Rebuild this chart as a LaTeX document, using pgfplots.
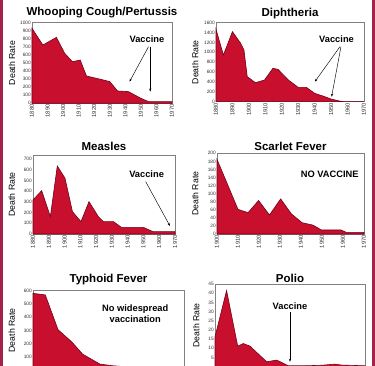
\documentclass[border=0pt]{standalone}
\usepackage{pgfplots}
\pgfplotsset{compat=1.18}
\usepackage{fontspec}
\setmainfont{Liberation Sans}
\usetikzlibrary{arrows.meta}
\definecolor{fillred}{RGB}{200,16,46}
\definecolor{edgered}{RGB}{115,0,25}
\definecolor{framered}{RGB}{165,35,75}
\tikzset{
  ann/.style={font=\bfseries\fontsize{9.3}{11}\selectfont},
  arr/.style={-{Stealth[length=3pt,width=2.2pt]}, line width=0.45pt, black},
  area/.style={fill=fillred, draw=edgered, line width=0.6pt},
}
\pgfplotsset{
  panel/.style={
    scale only axis, anchor=north west,
    axis line style={black!50, line width=0.5pt},
    tick style={draw=none},
    yticklabel style={font=\fontsize{4.8}{5}\selectfont, inner sep=1pt, text=black!80},
    xticklabel style={font=\fontsize{5.8}{6}\selectfont, rotate=90, anchor=east, inner sep=1pt, text=black!80},
    /pgf/number format/assume math mode=true,
    /pgf/number format/1000 sep={},
    ylabel={Death Rate},
    ylabel style={font=\fontsize{8.7}{9}\selectfont, anchor=center},
    title style={font=\bfseries\fontsize{11.5}{12}\selectfont, anchor=base},
    ymin=0, clip=false,
  },
}
\begin{document}
\begin{tikzpicture}
\fill[white] (0,0) rectangle (375pt,-366pt);
\useasboundingbox (0,0) rectangle (375pt,-366pt);
\clip (0,0) rectangle (375pt,-366pt);

% Whooping Cough
\begin{axis}[panel, at={(32pt,-22.7pt)}, width=140pt, height=80.6pt,
  xmin=1880, xmax=1970, ymax=1000, xtick={1880,1890,...,1970}, ytick={0,100,...,1000},
  title={Whooping Cough/Pertussis}, title style={at={(axis description cs:0.5,1)}, yshift=0.7pt},
  ylabel style={at={(axis description cs:-0.143,0.5)}}]
\addplot[area] coordinates {(1880,930) (1887,723) (1895.7,818) (1901,620) (1906,516) (1911,537) (1915,339) (1924,298) (1930,269) (1935,153) (1942,145) (1950,62) (1955,20) (1970,20)} \closedcycle;
\node[ann] at (axis cs:1953.9,793) {Vaccine};
\draw[arr] (axis cs:1954.9,702) -- (axis cs:1942.7,269);
\draw[arr] (axis cs:1956,702) -- (axis cs:1956,145);
\end{axis}

% Diphtheria
\begin{axis}[panel, at={(216pt,-22.7pt)}, width=148pt, height=79pt,
  xmin=1880, xmax=1970, ymax=1600, xtick={1880,1890,...,1970}, ytick={0,200,...,1600},
  title={Diphtheria}, title style={at={(axis description cs:0.5,1)}, yshift=0pt},
  ylabel style={at={(axis description cs:-0.14,0.5)}}]
\addplot[area] coordinates {(1880,1466) (1884.5,946) (1890,1419) (1895,1182) (1897,1047) (1899,507) (1904,385) (1909.5,439) (1914.6,676) (1917.7,655) (1924,439) (1930,290) (1935,290) (1940,169) (1945,115) (1950,54) (1955,14) (1958,0) (1970,0)} \closedcycle;
\node[ann] at (axis cs:1953.3,1264) {Vaccine};
\draw[arr] (axis cs:1955.4,1115) -- (axis cs:1940.1,405);
\draw[arr] (axis cs:1956,1115) -- (axis cs:1950.3,101);
\end{axis}

% Measles
\begin{axis}[panel, at={(33pt,-155pt)}, width=142pt, height=79pt,
  xmin=1880, xmax=1970, ymax=740, xtick={1880,1890,...,1970}, ytick={0,100,...,700},
  title={Measles}, title style={at={(axis description cs:0.5,1)}, yshift=-2pt},
  ylabel style={at={(axis description cs:-0.15,0.5)}}]
\addplot[area] coordinates {(1880,319) (1885.5,406) (1891,163) (1895.4,637) (1900.3,522) (1905,209) (1910.4,116) (1915.5,303) (1921.4,163) (1924.6,116) (1931,116) (1936,62) (1950,62) (1956,22) (1970,22)} \closedcycle;
\node[ann] at (axis cs:1952,562) {Vaccine};
\draw[arr] (axis cs:1951.4,491) -- (axis cs:1966.8,75);
\end{axis}

% Scarlet Fever
\begin{axis}[panel, at={(217pt,-153.3pt)}, width=147pt, height=80.7pt,
  xmin=1900, xmax=1970, ymax=200, xtick={1900,1910,...,1970}, ytick={0,20,...,200},
  title={Scarlet Fever}, title style={at={(axis description cs:0.5,1)}, yshift=-3.3pt},
  ylabel style={at={(axis description cs:-0.148,0.5)}}]
\addplot[area] coordinates {(1900,185) (1910,61) (1914.8,53) (1919.8,83) (1925,47) (1930.3,87) (1935.4,50) (1940.5,28) (1945.7,22) (1949.7,10) (1959,10) (1961.6,4) (1970,4)} \closedcycle;
\node[ann] at (axis cs:1953.7,149) {NO VACCINE};
\end{axis}

% Typhoid Fever
\begin{axis}[panel, at={(33pt,-290.7pt)}, width=151pt, height=79.3pt,
  xmin=1900, xmax=1970, ymax=600, xtick={1900,1910,...,1970}, xticklabels={}, ytick={100,200,...,600},
  title={Typhoid Fever}, title style={at={(axis description cs:0.5,1)}, yshift=2.4pt},
  ylabel style={at={(axis description cs:-0.14,0.5)}}]
\addplot[area] coordinates {(1900,580) (1905.7,568) (1911.6,305) (1918,212) (1923,120) (1931,45) (1937,32) (1943,25) (1950,15) (1960,8) (1970,5)} \closedcycle;
\node[ann, align=center] at (axis cs:1947.4,427) {No widespread\\vaccination};
\end{axis}

% Polio
\begin{axis}[panel, at={(215pt,-284pt)}, width=150pt, height=82.7pt,
  xmin=1900, xmax=1970, ymax=45, xtick={1900,1910,...,1970}, xticklabels={}, ytick={5,10,...,45},
  title={Polio}, title style={at={(axis description cs:0.5,1)}, yshift=-4.5pt},
  ylabel style={at={(axis description cs:-0.125,0.5)}}]
\addplot[area] coordinates {(1900,16.2) (1905.4,41.4) (1910.6,11.2) (1913.2,12.6) (1916.3,11.2) (1924.1,2.7) (1928.8,3.6) (1934.2,0.5) (1942,0.5) (1950,0.8) (1956,1.4) (1959,0.9) (1970,0.5)} \closedcycle;
\node[ann] at (axis cs:1935,32.8) {Vaccine};
\draw[arr] (axis cs:1935,29.7) -- (axis cs:1935,2.7);
\end{axis}

\fill[framered] (0,0) rectangle (3pt,-366pt);
\fill[framered] (372pt,0) rectangle (375pt,-366pt);
\end{tikzpicture}
\end{document}
